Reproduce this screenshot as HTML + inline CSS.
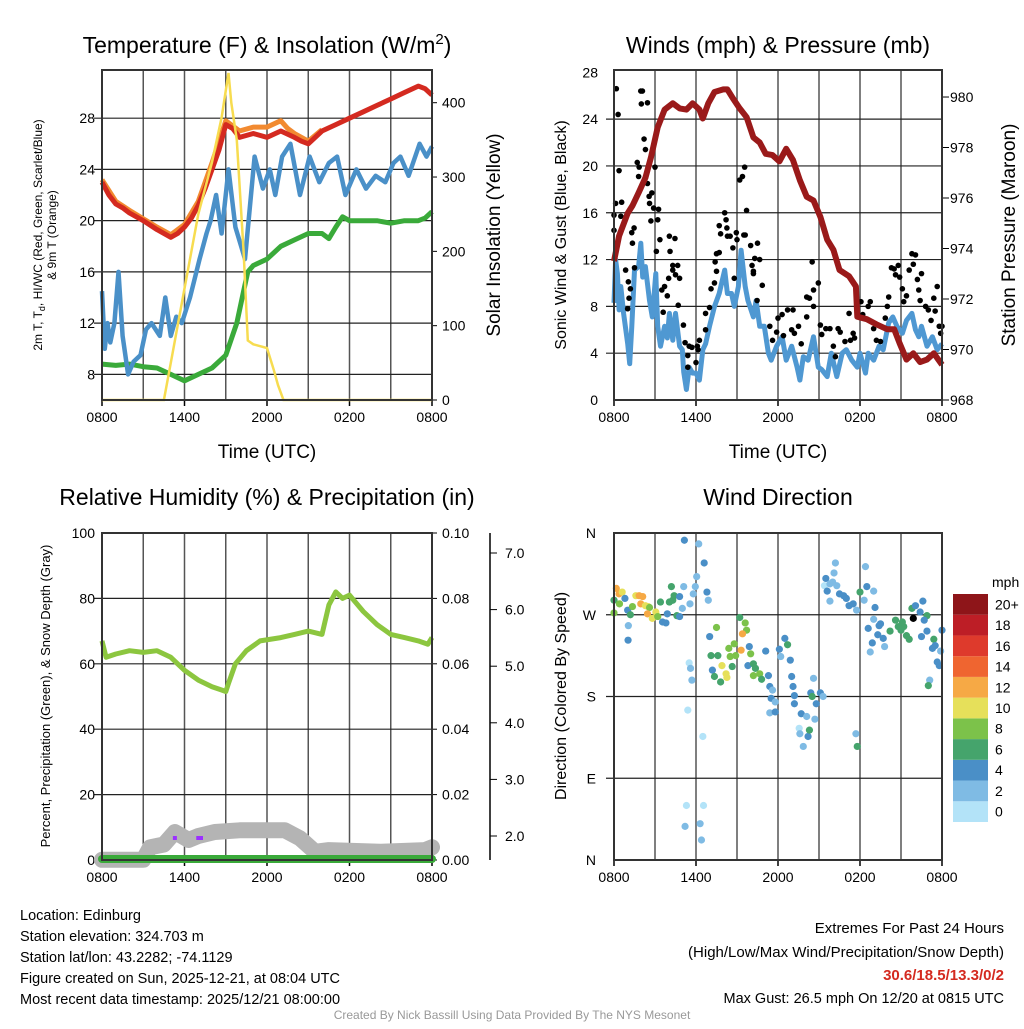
<!DOCTYPE html>
<html><head><meta charset="utf-8"><style>
body{margin:0;background:#fff;font-family:"Liberation Sans",Arial,sans-serif}
svg text{font-family:"Liberation Sans",Arial,sans-serif}
</style></head><body>
<svg id="c" width="1024" height="1024" xmlns="http://www.w3.org/2000/svg"></svg>
<script>
// ---- data ----
const tHours=[0,0.5,1,1.5,2,3,4,5,5.5,6,6.5,7,7.5,8,8.5,9,9.5,10,11,12,13,14,14.5,15,16,17,18,19,20,21,22,23,23.5,24];
const tVals=[23,22,21.3,21,20.6,20,19.3,18.7,19,19.5,20.2,21.2,22.5,24,25.5,27.5,27.2,26.5,26.8,26.5,27,26.5,26.2,26,27,27.5,28,28.5,29,29.5,30,30.5,30.3,29.8];
const t9Hours=[0,1,2,4,5,6,7,8,9,10,11,12,13,13.5,14,15,16];
const t9Vals=[23.2,21.5,20.8,19.5,18.9,19.7,21.5,24.5,27.8,27,27.3,27.3,27.8,27.2,26.8,26.2,27.1];
const tdHours=[0,0.2,0.4,0.6,0.9,1.2,1.5,1.9,2.3,2.8,3.2,3.6,4.2,4.6,5,5.4,5.8,6.4,7.1,7.6,7.9,8.3,8.7,9.2,9.7,10.4,11.1,11.7,12.2,12.6,13.1,13.7,14.4,15.1,15.8,16.5,17.1,17.7,18.5,19.2,19.9,20.6,21.2,21.7,22.3,23.1,23.6,24];
const tdVals=[14.5,10,12,10.5,12,16,11,8,9,9.5,11.5,12,11,14,11,12.5,12,14,17,19,20,22,19,24,19.5,17,25,22.5,24,22,25,26,22,25,23,24.5,25,22,24,22.5,23.5,23,24.5,25,23.5,26,25,25.8];
const tdewHours=[0,1,2,3,4,5,6,7,8,9,9.8,10.3,10.6,11,12,13,14,15,16,16.5,17,17.5,18,19,20,21,22,23,23.5,24];
const tdewVals=[8.8,8.7,8.8,8.6,8.5,8,7.5,8,8.5,9.5,12,14.5,16,16.5,17,18,18.5,19,19,18.6,19.5,20.3,20,20,20,19.8,20,20,20.2,20.7];
const solHours=[0,4.5,5,6,7,8,8.7,9.2,9.4,9.8,10.3,10.6,11,12,12.5,12.8,13.2,24];
const solVals=[0,0,50,150,250,320,380,440,400,350,200,80,75,70,40,20,0,0];
const windHours=[0,0.12,0.25,0.37,0.5,0.7,1,1.15,1.3,1.5,1.8,1.96,2.1,2.3,2.6,2.8,3.06,3.2,3.4,3.7,3.9,4.05,4.3,4.5,4.8,5,5.1,5.3,5.5,5.75,6,6.25,6.5,6.7,6.99,7.35,7.7,8.1,8.3,8.6,8.8,9.1,9.3,9.6,9.8,10.2,10.4,10.66,11,11.3,11.5,11.9,12.3,12.6,13,13.4,13.6,13.85,14.2,14.6,14.95,15.2,15.6,15.9,16.3,16.7,17,17.4,17.8,18,18.4,18.6,19,19.4,19.7,20.1,20.4,20.7,21.1,21.4,21.8,22.06,22.3,22.5,22.9,23.3,23.65,24];
const windVals=[8.3,12,10.8,7.7,9.7,7.4,4.8,3.1,6.3,11.1,11.4,13.4,10.5,11.4,8.5,7.1,10.8,6.3,4.6,6.3,5.3,7.4,5.1,7.4,4.6,4.3,2.4,0.9,2.8,2.3,2.3,1.7,4.3,4.8,6.3,8,9.1,11.1,9.1,9.1,8,9.7,12.8,9.7,8.5,7.1,8.5,6.3,6.3,4,3.4,4.6,5.4,3.4,4.6,2.8,1.7,3.7,3.4,5.4,2.8,2.6,2,4,2,4,4.3,3.4,2.8,4,2.3,4,3.4,4.6,4.3,6.6,7.1,6.3,5.7,6.8,7.4,6,5.4,6.3,4.6,5.4,4.3,4.8];
const gustHours=[0.17,0.3,0.37,0,0.12,0,0.56,0.5,0.85,1.05,1.2,1.1,1,1.3,1.47,1.35,1.5,1.7,1.8,1.84,1.96,2.08,2,2.45,2.2,2.3,2.45,2.57,2.77,2.6,2.9,3,2.7,3.26,3.2,3.1,3.36,3.5,3.7,3.9,4.05,4.46,4.1,4,4.3,4.3,4.66,4.5,4.8,4.7,3.6,5.08,5.2,5.4,5.5,5.7,6,6.1,6.25,6.15,5.4,6.7,6.7,6.99,7.1,7.35,7.5,7.4,7.5,7.7,7.7,7.8,8.1,8.2,8.26,8.3,8.5,8.7,8.95,9,8.8,9.2,9.4,9.56,9.7,9.5,9.6,10,10.1,10.2,10.3,10.5,10.66,10.85,10.47,10.2,11.4,11.6,11.9,12,12.3,12.4,12.7,13.1,13,13.2,13.5,13.7,14.1,14.3,14.5,14.6,14.1,14.6,14.95,15.1,15.2,15.5,15.8,16.05,16.2,16.4,16.55,16.9,17.2,17.3,17.5,17.6,18.07,18.2,18.6,18.75,19,19.2,19.5,19.85,20,20.1,20.3,20.5,20.6,20.8,20.9,21.1,21.2,21.4,21.6,21.8,22.06,21.9,22.2,22.3,22.4,22.5,22.8,23,23.2,23.4,23.5,23.65,23.8,23.9,24];
const gustVals=[26.6,24.4,19.6,15.8,16.8,14.5,16.9,15.7,11.1,10.1,9.5,8.7,7.8,14.3,14.7,13.4,11.3,20.3,19.1,19.9,26.4,26.4,25.3,25.4,22.3,21.4,18.5,17.4,17.7,16.8,16.4,19.9,15.3,16.3,15.4,12.7,13.7,9.4,9.7,8.9,14,13.8,12.7,10.4,11.1,11.5,11.5,10.7,10.4,8.1,7.5,6.4,4.9,3.8,4.6,4.5,3.2,4.6,5.1,4.3,2.8,6,7.4,7.9,9.5,10,11,11.8,12.5,12.6,14.9,14.2,16,15.4,14.7,14,14,13,14.3,13.7,10.4,18.8,19.1,19.9,16.2,14.1,14.1,13.2,11.5,11,12.1,13.4,12,9.8,8.5,10.8,6.3,5.1,5.8,7,7.3,5.5,7.7,7.7,6,5.7,6.3,4.8,8.8,8.7,11.8,8,7.1,9.4,10,6.4,5.6,6.1,6.1,4.6,3.7,6.1,5.8,5,7.4,5.1,5.7,5.3,8.4,7.3,8,8.4,6.1,5.1,5,7,8,8.8,11.3,11.2,10.7,11.5,10.5,9.5,8.4,8.9,11.1,12.5,12.4,11.6,10.3,9.4,8.5,10.8,8,7.7,6.8,8.7,7.6,9.7,6.3,5.7,6.3];
const presHours=[0,0.37,1,1.35,1.84,2.3,2.7,3.2,3.7,4.3,4.8,5.3,5.75,6.25,6.5,6.9,7.35,8,8.3,8.7,9.2,9.7,10.2,10.66,11.1,11.6,12.1,12.6,13.1,13.6,14.1,14.6,15.1,15.6,16.05,16.5,17.2,17.7,17.8,18.5,19.2,20,20.5,20.9,21.4,21.9,22.4,22.9,23.4,24];
const presVals=[973.5,974.5,975.4,975.7,976.25,976.8,977.6,978.8,979.5,979.75,979.55,979.5,979.75,979.5,979.15,979.75,980.2,980.3,980.3,979.95,979.55,979.2,978.4,978.2,977.75,977.7,977.45,977.95,977.5,976.7,976.05,975.9,975.25,974.35,973.95,973.15,972.9,972.5,971.3,971.2,971,970.8,970.8,970.25,969.6,969.85,969.5,969.6,969.85,969.4];
const rhHours=[0,0.3,1,2,3,4,5,5.5,6,7,8,8.7,9,9.2,9.7,10.5,11.5,13,14,15,16,16.5,17,17.5,18,19,20,21,22,23,23.7,24];
const rhVals=[67,62,63,64,63.5,64,62,60,58,55,53,52,51.5,54,60,64,67,68,69,70,69,78,82,80,81,76,72,69,68,67,66,68];
const snowHours=[0,3,3.5,4.5,5.3,6.3,7,8.2,10,13.3,14.4,15.5,16.5,20.2,23.5,24];
const snowVals=[1.58,1.58,1.8,1.85,2.07,1.93,2.0,2.07,2.1,2.1,1.96,1.72,1.75,1.72,1.75,1.8];
const dirHours=[0.17,0.37,0.6,0,0.4,0.8,1,1.35,1.2,1.05,1.03,0,1.6,1.84,2.1,1.96,2.3,2.5,2.6,2.45,2.8,3.06,3.2,3.4,3.55,3.8,3.9,4.2,4.05,4.3,4.4,4.6,4.8,4.8,5,5.1,5.15,5.56,5.8,5.95,6.05,6.2,6.6,6.8,6.9,5.5,5.6,5.7,5.4,6.5,5.3,6.55,5.2,6.3,6.4,7,7.5,7.1,7.6,7.2,7.35,7.8,7.9,8.2,8.26,8.4,8.5,8.65,8.8,8.9,9.2,9.6,9.7,9.4,9.3,9.9,9.8,10,10.2,10.35,10.2,10.66,10.8,11.1,11.3,11.4,11.6,11.5,11.8,11.4,11.8,12.1,12.2,12.5,12.7,12.9,13,13.1,13.2,13.2,13.7,14.1,13.55,13.6,13.85,14.2,14.3,14.4,14.6,14.5,14.8,15.1,15.3,14.7,16.2,16.1,15.5,15.4,15.8,15.6,16,16.3,15.8,16.5,16.8,17,17.2,17.5,17.75,18,18.3,18.4,18.5,19,19.1,19,18.6,19.5,19.3,19.4,19.7,19.8,18.9,18.75,17.7,17.8,20.2,20.6,21,21.2,21.4,21.6,21.8,22.06,22.4,22.6,22.9,22.7,22.9,22.5,23.4,23.5,23.3,24,23.65,23.8,23.9,23.1,23,21.1,20.8,21.9];
const dirVals=[299,293,295,286,282,288,275,279,270,258,242,272,291,291,290,282,280,279,278,271,266,273,268,284,262,261,271,301,284,286,291,269,268,290,277,301,352,282,293,301,312,348,327,295,286,217,211,198,165,136,60,60,37,40,22,246,256,225,225,209,202,196,214,205,201,233,224,213,238,225,267,261,253,249,231,235,214,227,216,211,203,205,199,230,203,191,187,178,174,162,163,232,224,244,237,220,202,191,181,172,161,158,145,139,125,136,143,184,200,180,172,184,180,155,327,316,310,302,304,296,306,302,285,293,291,288,280,282,275,295,286,323,301,296,278,265,255,260,248,258,244,235,239,229,139,125,252,264,253,257,247,243,277,280,273,285,269,264,252,246,243,236,233,253,218,214,230,198,192,262,257,266];
const dirSpeeds=[13,13,11,7,9,5,5,9,7,3,5,9,11,13,13,13,11,11,9,13,11,11,9,7,5,5,5,7,7,7,7,7,5,5,3,3,5,3,3,3,3,3,5,5,3,1,3,3,1,1,1,1,3,3,3,5,9,7,7,5,7,7,11,11,11,9,9,7,9,9,7,9,9,13,13,5,5,9,7,7,9,9,7,5,5,5,3,5,3,3,5,5,3,5,7,5,5,5,5,5,5,3,1,3,3,5,7,5,3,7,5,5,3,3,3,3,5,1,3,5,3,3,3,5,5,5,5,5,3,7,3,3,5,3,5,3,5,5,5,5,5,3,5,3,3,7,7,7,7,7,7,7,7,5,5,5,7,5,5,5,7,5,5,5,5,5,3,3,7,7,7];
const cbLabels=["0","2","4","6","8","10","12","14","16","18","20+"];
const cbColors=["#b3e3f8","#7fbbe4","#4a8fc7","#45a46c","#7cc24a","#e6e05a","#f6a945","#ef6530","#de3a2c","#bd1e26","#8e1519"];
const xTickLabels=["0800","1400","2000","0200","0800"];
// ---- drawing ----
const NS="http://www.w3.org/2000/svg", svg=document.getElementById('c');
function el(tag,attrs,parent){const e=document.createElementNS(NS,tag);for(const k in attrs)e.setAttribute(k,attrs[k]);(parent||svg).appendChild(e);return e;}
function txt(s,x,y,size,anchor,extra,parent){const t=el('text',Object.assign({x:x,y:y,'font-size':size,'text-anchor':anchor||'start',fill:'#000'},extra||{}),parent);t.textContent=s;return t;}
function lin(d0,d1,r0,r1){return v=>r0+(v-d0)/(d1-d0)*(r1-r0);}
function pathD(hs,vs,X,Y){return hs.map((h,i)=>(i?'L':'M')+X(h).toFixed(1)+','+Y(vs[i]).toFixed(1)).join('');}
function frame(g,L,R,T,B,vlines,hlines){
  vlines.forEach(x=>{const l=el('line',{x1:x,x2:x,y1:T,y2:B,stroke:'#555','stroke-width':1.5},g);});
  hlines.forEach(y=>{const l=el('line',{x1:L-8,x2:R,y1:y,y2:y,stroke:'#222','stroke-width':1.2},g);});
}
function border(g,L,R,T,B){const r=el('rect',{x:L,y:T,width:R-L,height:B-T,fill:'none',stroke:'#333','stroke-width':2},g);}
function xAxis(g,L,R,B){const X=lin(0,24,L,R);const v=[];for(let h=3;h<24;h+=3)v.push(X(h));
  xTickLabels.forEach((s,i)=>{const t=txt(s,X(i*6),B+22,14,'middle',{},g);
    const tk=el('line',{x1:X(i*6),x2:X(i*6),y1:B,y2:B+6,stroke:'#000','stroke-width':1.5},g);});
  return {X:X,v:v};}

// Panel 1
(function(){const g=el('g',{});
 const L=102,R=432,T=70,B=400;const ax=xAxis(g,L,R,B);const X=ax.X;
 const Y=lin(6,31.76,B,T);const Ys=lin(0,444,B,T);
 const hl=[8,12,16,20,24,28].map(Y);frame(g,L,R,T,B,ax.v,hl);
 [8,12,16,20,24,28].forEach(v=>{const t=txt(String(v),95,Y(v)+5,14,'end',{},g);});
 [0,100,200,300,400].forEach(v=>{const t=txt(String(v),442,Ys(v)+5,14,'start',{},g);
   const k=el('line',{x1:R,x2:R+5,y1:Ys(v),y2:Ys(v),stroke:'#000'},g);});
 let p=el('path',{d:pathD(tdewHours,tdewVals,X,Y),fill:'none',stroke:'#3aaa3a','stroke-width':5,'stroke-linejoin':'round'},g);
 p=el('path',{d:pathD(tdHours,tdVals,X,Y),fill:'none',stroke:'#4a90c8','stroke-width':4.5,'stroke-linejoin':'round'},g);
 p=el('path',{d:pathD(t9Hours,t9Vals,X,Y),fill:'none',stroke:'#f28a30','stroke-width':5,'stroke-linejoin':'round'},g);
 p=el('path',{d:pathD(tHours,tVals,X,Y),fill:'none',stroke:'#d42a20','stroke-width':5,'stroke-linejoin':'round'},g);
 p=el('path',{d:pathD(solHours,solVals,X,Ys),fill:'none',stroke:'#f7dc50','stroke-width':2.5},g);
 border(g,L,R,T,B);
 let t=el('text',{x:267,y:53,'font-size':23,'text-anchor':'middle'},g);t.innerHTML='Temperature (F) &amp; Insolation (W/m<tspan dy="-9" font-size="15">2</tspan><tspan dy="9">)</tspan>';
 t=txt('Time (UTC)',267,458,19,'middle',{},g);
 t=el('text',{x:0,y:0,'font-size':12,'text-anchor':'middle',transform:'translate(42,235) rotate(-90)'},g);t.innerHTML='2m T, T<tspan dy="3" font-size="9">d</tspan><tspan dy="-3">, HI/WC (Red, Green, Scarlet/Blue)</tspan>';
 t=txt('& 9m T (Orange)',0,0,12,'middle',{transform:'translate(56,235) rotate(-90)'},g);
 t=txt('Solar Insolation (Yellow)',0,0,19,'middle',{transform:'translate(500,235) rotate(-90)'},g);
})();

// Panel 2
(function(){const g=el('g',{});
 const L=614,R=942,T=70,B=400;const ax=xAxis(g,L,R,B);const X=ax.X;
 const Y=lin(0,28.2,B,T);const Yp=lin(968,981.07,B,T);
 const hl=[4,8,12,16,20,24].map(Y);frame(g,L,R,T,B,ax.v,hl);
 [0,4,8,12,16,20,24,28].forEach(v=>{const t=txt(String(v),598,Y(v)+5,14,'end',{},g);});
 [968,970,972,974,976,978,980].forEach(v=>{const t=txt(String(v),950,Yp(v)+5,14,'start',{},g);
   const k=el('line',{x1:R,x2:R+7,y1:Yp(v),y2:Yp(v),stroke:'#000'},g);});
 let p=el('path',{d:pathD(windHours,windVals,X,Y),fill:'none',stroke:'#4f98d2','stroke-width':5,'stroke-linejoin':'round'},g);
 gustHours.forEach((h,i)=>{const c=el('circle',{cx:X(h),cy:Y(gustVals[i]),r:2.8,fill:'#000'},g);});
 p=el('path',{d:pathD(presHours,presVals,X,Yp),fill:'none',stroke:'#9a1a1a','stroke-width':6,'stroke-linejoin':'round'},g);
 border(g,L,R,T,B);
 let t=txt('Winds (mph) & Pressure (mb)',778,53,23,'middle',{},g);
 t=txt('Time (UTC)',778,458,19,'middle',{},g);
 t=txt('Sonic Wind & Gust (Blue, Black)',0,0,16,'middle',{transform:'translate(566,235) rotate(-90)'},g);
 t=txt('Station Pressure (Maroon)',0,0,19,'middle',{transform:'translate(1015,235) rotate(-90)'},g);
})();

// Panel 3
(function(){const g=el('g',{});
 const L=102,R=432,T=533,B=860;const ax=xAxis(g,L,R,B);const X=ax.X;
 const Y=lin(0,100,B,T);const Ys=lin(2,7,836,553);
 frame(g,L,R,T,B,ax.v,[20,40,60,80].map(Y));
 [0,20,40,60,80,100].forEach(v=>{const t=txt(String(v),95,Y(v)+5,14,'end',{},g);});
 ['0.00','0.02','0.04','0.06','0.08','0.10'].forEach((s,i)=>{const t=txt(s,442,Y(i*20)+5,14,'start',{},g);
   const k=el('line',{x1:R,x2:R+5,y1:Y(i*20),y2:Y(i*20),stroke:'#000'},g);});
 let a=el('line',{x1:490,x2:490,y1:533,y2:860,stroke:'#000','stroke-width':1.5},g);
 for(let v=2;v<=7;v++){const t=txt(v.toFixed(1),505,Ys(v)+5,14,'start',{},g);
   const k=el('line',{x1:490,x2:497,y1:Ys(v),y2:Ys(v),stroke:'#000'},g);}
 let p=el('path',{d:pathD(snowHours,snowVals,X,Ys),fill:'none',stroke:'#b4b4b4','stroke-width':16,'stroke-linejoin':'round','stroke-linecap':'round'},g);
 p=el('line',{x1:X(0),x2:X(24),y1:B-1,y2:B-1,stroke:'#3aaa3a','stroke-width':8,'stroke-linecap':'round'},g);
 [[5.3,838],[7,838],[7.2,838]].forEach(q=>{const r=el('rect',{x:X(q[0])-2,y:q[1]-2,width:4,height:4,fill:'#9b30ff'},g);});
 p=el('path',{d:pathD(rhHours,rhVals,X,Y),fill:'none',stroke:'#8cc63f','stroke-width':5,'stroke-linejoin':'round'},g);
 border(g,L,R,T,B);
 let t=txt('Relative Humidity (%) & Precipitation (in)',267,505,23,'middle',{},g);
 t=txt('Percent, Precipitation (Green), & Snow Depth (Gray)',0,0,13,'middle',{transform:'translate(50,696) rotate(-90)'},g);
})();

// Panel 4
(function(){const g=el('g',{});
 const L=614,R=942,T=533,B=860;const ax=xAxis(g,L,R,B);const X=ax.X;
 const Y=lin(0,360,B,T);
 frame(g,L,R,T,B,ax.v,[90,180,270].map(Y));
 ['N','E','S','W','N'].forEach((s,i)=>{const t=txt(s,596,Y(i*90)+5,14,'end',{},g);});
 function col(s){let i=Math.floor(s/2);if(i>10)i=10;if(i<0)i=0;return cbColors[i];}
 dirHours.forEach((h,i)=>{const c=el('circle',{cx:X(h),cy:Y(dirVals[i]),r:3.6,fill:col(dirSpeeds[i])},g);});
 border(g,L,R,T,B);
 const cy0=822,h=(822-594)/11;
 cbColors.forEach((c,i)=>{const r=el('rect',{x:953,y:cy0-(i+1)*h,width:35,height:h,fill:c},g);
   const t=txt(cbLabels[i],995,cy0-i*h-h/2+5,14,'start',{},g);});
 let t=txt('mph',992,587,14,'start',{},g);
 t=txt('Wind Direction',778,505,23,'middle',{},g);
 t=txt('Direction (Colored By Speed)',0,0,16,'middle',{transform:'translate(566,696) rotate(-90)'},g);
})();

// Footer
(function(){const g=el('g',{});
 ['Location: Edinburg','Station elevation: 324.703 m','Station lat/lon: 43.2282; -74.1129','Figure created on Sun, 2025-12-21, at 08:04 UTC','Most recent data timestamp: 2025/12/21 08:00:00'].forEach((s,i)=>{const t=txt(s,20,920+i*21,14.5,'start',{},g);});
 let t=txt('Extremes For Past 24 Hours',1004,933,15,'end',{},g);
 t=txt('(High/Low/Max Wind/Precipitation/Snow Depth)',1004,957,15,'end',{},g);
 t=txt('30.6/18.5/13.3/0/2',1004,980,15,'end',{fill:'#d42a20','font-weight':'bold'},g);
 t=txt('Max Gust: 26.5 mph On 12/20 at 0815 UTC',1004,1003,14.5,'end',{},g);
 t=txt('Created By Nick Bassill Using Data Provided By The NYS Mesonet',512,1019,12,'middle',{fill:'#999'},g);
})();
</script>
</body></html>
